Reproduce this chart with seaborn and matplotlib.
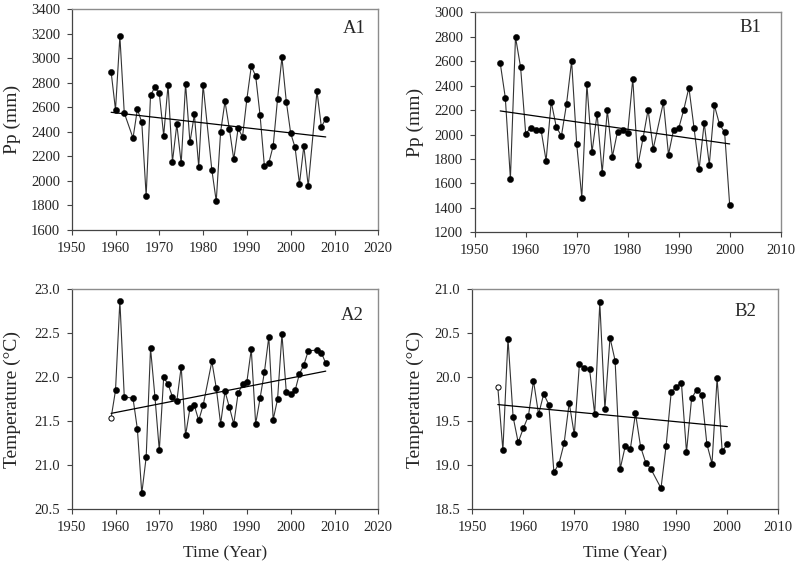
import numpy as np
import matplotlib
matplotlib.use('Agg')
import matplotlib.pyplot as plt
import seaborn as sns

# Station A (Pp and temperature share the same years)
years_a = [1959, 1960, 1961, 1962, 1964, 1965, 1966, 1967, 1968, 1969, 1970,
           1971, 1972, 1973, 1974, 1975, 1976, 1977, 1978, 1979, 1980, 1982,
           1983, 1984, 1985, 1986, 1987, 1988, 1989, 1990, 1991, 1992, 1993,
           1994, 1995, 1996, 1997, 1998, 1999, 2000, 2001, 2002, 2003, 2004,
           2006, 2007, 2008]
pp_a = [2890, 2580, 3180, 2555, 2350, 2585, 2478, 1878, 2700, 2765, 2714,
        2370, 2784, 2157, 2462, 2143, 2792, 2314, 2543, 2116, 2784, 2089,
        1835, 2400, 2649, 2424, 2176, 2430, 2359, 2670, 2935, 2857, 2538,
        2119, 2146, 2286, 2670, 3008, 2646, 2389, 2273, 1976, 2286, 1957,
        2732, 2441, 2508]
temp_a = [21.54, 21.85, 22.87, 21.78, 21.76, 21.41, 20.68, 21.09, 22.33, 21.78, 21.17,
          22.00, 21.92, 21.78, 21.73, 22.12, 21.34, 21.65, 21.68, 21.51, 21.68, 22.18,
          21.88, 21.47, 21.84, 21.66, 21.47, 21.82, 21.92, 21.95, 22.32, 21.47, 21.76,
          22.06, 22.46, 21.52, 21.75, 22.49, 21.83, 21.81, 21.85, 22.04, 22.14, 22.30,
          22.31, 22.28, 22.16]

# Station B
years_b = [1955, 1956, 1957, 1958, 1959, 1960, 1961, 1962, 1963, 1964, 1965,
           1966, 1967, 1968, 1969, 1970, 1971, 1972, 1973, 1974, 1975, 1976,
           1977, 1978, 1979, 1980, 1981, 1982, 1983, 1984, 1985, 1987, 1988,
           1989, 1990, 1991, 1992, 1993, 1994, 1995, 1996, 1997, 1998, 1999,
           2000]
pp_b = [2586, 2302, 1639, 2798, 2550, 2007, 2056, 2035, 2040, 1786, 2269,
        2062, 1988, 2247, 2602, 1923, 1484, 2411, 1855, 2171, 1688, 2198,
        1819, 2024, 2037, 2016, 2457, 1748, 1969, 2204, 1882, 2264, 1836,
        2040, 2050, 2204, 2384, 2056, 1716, 2095, 1754, 2239, 2084, 2019,
        1421]
temp_b = [19.89, 19.17, 20.44, 19.55, 19.26, 19.42, 19.56, 19.96, 19.58, 19.81, 19.69,
          18.92, 19.02, 19.25, 19.71, 19.35, 20.15, 20.10, 20.09, 19.58, 20.85, 19.64,
          20.45, 20.19, 18.96, 19.22, 19.19, 19.59, 19.21, 19.03, 18.96, 18.74, 19.22,
          19.83, 19.89, 19.94, 19.15, 19.76, 19.86, 19.80, 19.24, 19.02, 19.99, 19.16,
          19.24]

# linear trend lines (end points)
trend_a_years = [1959, 2008]
trend_pp_a = [2560, 2359]
trend_temp_a = [21.59, 22.07]
trend_b_years = [1955, 2000]
trend_pp_b = [2193, 1923]
trend_temp_b = [19.69, 19.44]

sns.set_style('ticks')
plt.rcParams['font.family'] = ['Liberation Serif', 'DejaVu Serif']

fig = plt.figure(figsize=(7.98, 5.64), dpi=100)
W, H = 798.0, 564.0


def make_ax(left, top, right, bottom):
    return fig.add_axes([left / W, 1 - bottom / H, (right - left) / W, (bottom - top) / H])


axA1 = make_ax(71.7, 9.3, 378.3, 230.0)
axB1 = make_ax(474.7, 12.3, 780.7, 232.3)
axA2 = make_ax(71.7, 289.3, 378.3, 509.3)
axB2 = make_ax(472.3, 289.3, 778.3, 509.3)

panels = [
    (axA1, years_a, pp_a, trend_a_years, trend_pp_a, 'A1', (0.92, 0.915), (1950, 2020), (1600, 3400), 200, 'Pp (mm)', False, False),
    (axB1, years_b, pp_b, trend_b_years, trend_pp_b, 'B1', (0.90, 0.933), (1950, 2010), (1200, 3000), 200, 'Pp (mm)', False, False),
    (axA2, years_a, temp_a, trend_a_years, trend_temp_a, 'A2', (0.915, 0.883), (1950, 2020), (20.5, 23.0), 0.5, 'Temperature (°C)', True, True),
    (axB2, years_b, temp_b, trend_b_years, trend_temp_b, 'B2', (0.891, 0.897), (1950, 2010), (18.5, 21.0), 0.5, 'Temperature (°C)', True, True),
]

for ax, yrs, vals, tyrs, tvals, tag, tagpos, xlim, ylim, ystep, ylab, open_first, xlab in panels:
    sns.lineplot(x=yrs, y=vals, ax=ax, color='#333333', lw=0.8, sort=False, zorder=2)
    sns.lineplot(x=tyrs, y=tvals, ax=ax, color='black', lw=0.9, zorder=2)
    start = 1 if open_first else 0
    sns.scatterplot(x=yrs[start:], y=vals[start:], ax=ax, color='black', s=20,
                    edgecolor='black', linewidth=0.3, zorder=3)
    if open_first:
        sns.scatterplot(x=yrs[:1], y=vals[:1], ax=ax, color='white', s=14,
                        edgecolor='black', linewidth=0.7, zorder=3)
    ax.set_xlim(*xlim)
    ax.set_ylim(*ylim)
    ax.set_xticks(np.arange(xlim[0], xlim[1] + 1, 10))
    yt = np.arange(ylim[0], ylim[1] + ystep / 2, ystep)
    ax.set_yticks(yt)
    if ystep < 1:
        ax.set_yticklabels([f'{v:.1f}' for v in yt])
    ax.tick_params(labelsize=10.5, length=3.5, width=0.8, color='#444444', pad=5)
    for side in ['left', 'bottom']:
        ax.spines[side].set_color('#444444')
        ax.spines[side].set_linewidth(0.9)
    for side in ['top', 'right']:
        ax.spines[side].set_visible(True)
        ax.spines[side].set_color('#8c8c8c')
        ax.spines[side].set_linewidth(1.0)
    ax.set_ylabel(ylab, fontsize=14)
    if xlab:
        ax.set_xlabel('Time (Year)', fontsize=12.5, labelpad=8)
    ax.text(tagpos[0], tagpos[1], tag, transform=ax.transAxes, fontsize=13.5,
            ha='center', va='center')

axA1.yaxis.set_label_coords(-0.165, 0.5)
axA2.yaxis.set_label_coords(-0.165, 0.5)
axB1.yaxis.set_label_coords(-0.165, 0.5)
axB2.yaxis.set_label_coords(-0.157, 0.5)

plt.savefig('out.png', dpi=100)
